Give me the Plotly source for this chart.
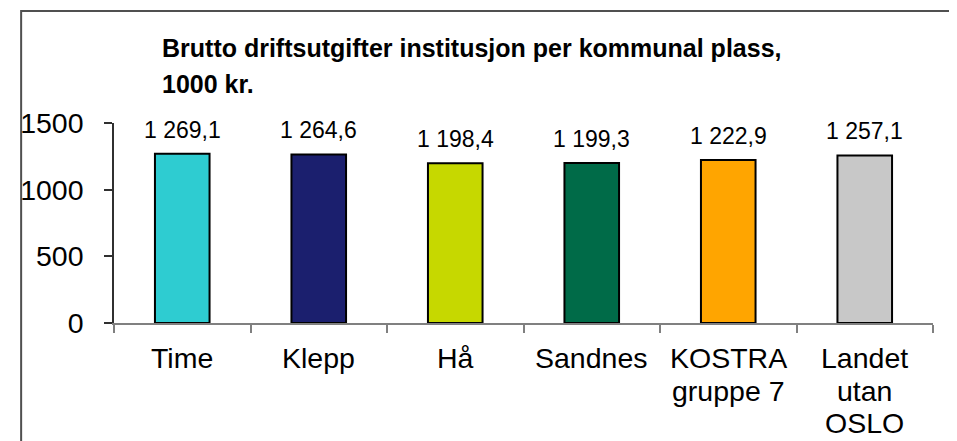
import plotly.graph_objects as go

categories = ["Time", "Klepp", "Hå", "Sandnes", "KOSTRA<br>gruppe 7", "Landet<br>utan<br>OSLO"]
values = [1269.1, 1264.6, 1198.4, 1199.3, 1222.9, 1257.1]
bar_colors = ["#2ECCD1", "#1B1F6E", "#C6D800", "#006B48", "#FFA500", "#C8C8C8"]
y_ticks = [0, 500, 1000, 1500]
title_lines = ["Brutto driftsutgifter institusjon per kommunal plass,", "1000 kr."]

FONT = "Arial, Liberation Sans, sans-serif"

# page offset (browser body margin) is 8px; plot area in screen px: x 104..933, y 123..323
def px_x(s):
    return (s - 104) / 829

def px_y(s):
    return (323 - s) / 200

def fmt(v):
    return f"{v:,.1f}".replace(",", " ").replace(".", ",")

fig = go.Figure()
fig.add_trace(go.Bar(
    x=categories, y=values,
    marker=dict(color=bar_colors, line=dict(color="#000000", width=2)),
    hoverinfo="skip",
))

# data labels
for c, v in zip(categories, values):
    fig.add_annotation(x=c, y=v, xref="x", yref="y", text=fmt(v),
                       showarrow=False, yanchor="bottom", yshift=9,
                       font=dict(family=FONT, size=23, color="#000000"))

# category labels, one line per annotation
for c in categories:
    for i, line in enumerate(c.split("<br>")):
        fig.add_annotation(x=c, xref="x", yref="paper", y=px_y(358 + i * 32.5),
                           text=line, showarrow=False, yanchor="middle",
                           font=dict(family=FONT, size=28.5, color="#000000"))

# title, two lines
for i, (line, yc) in enumerate(zip(title_lines, [47.5, 83.5])):
    fig.add_annotation(xref="paper", yref="paper", x=px_x(151), y=px_y(yc),
                       xanchor="left", yanchor="middle", align="left", showarrow=False,
                       text="<b>" + line + "</b>",
                       font=dict(family=FONT, size=25, color="#000000"))

# outer frame
fig.add_shape(type="rect", xref="paper", yref="paper",
              x0=px_x(10), x1=px_x(975),
              y0=px_y(460), y1=px_y(11),
              line=dict(color="#505050", width=2), fillcolor="rgba(0,0,0,0)", layer="below")

fig.update_layout(
    width=949, height=433,
    margin=dict(l=96, r=24, t=115, b=118),
    paper_bgcolor="white", plot_bgcolor="white",
    bargap=0.6, showlegend=False,
    font=dict(family=FONT, color="#000000"),
)
fig.update_xaxes(
    type="category", showline=True, linecolor="#808080", linewidth=1.5,
    ticks="outside", tickson="boundaries", ticklen=8, tickcolor="#808080", tickwidth=1.5,
    showticklabels=False, showgrid=False, zeroline=False,
)
fig.update_yaxes(
    range=[0, 1500], tickvals=y_ticks, ticktext=[str(t) for t in y_ticks],
    showline=True, linecolor="#303030", linewidth=1.5,
    ticks="outside", ticklen=8, tickcolor="#303030", tickwidth=1.5,
    tickfont=dict(family=FONT, size=28.5, color="#000000"),
    showgrid=False, zeroline=False, ticklabelstandoff=15,
)

fig.write_html("out.html")
